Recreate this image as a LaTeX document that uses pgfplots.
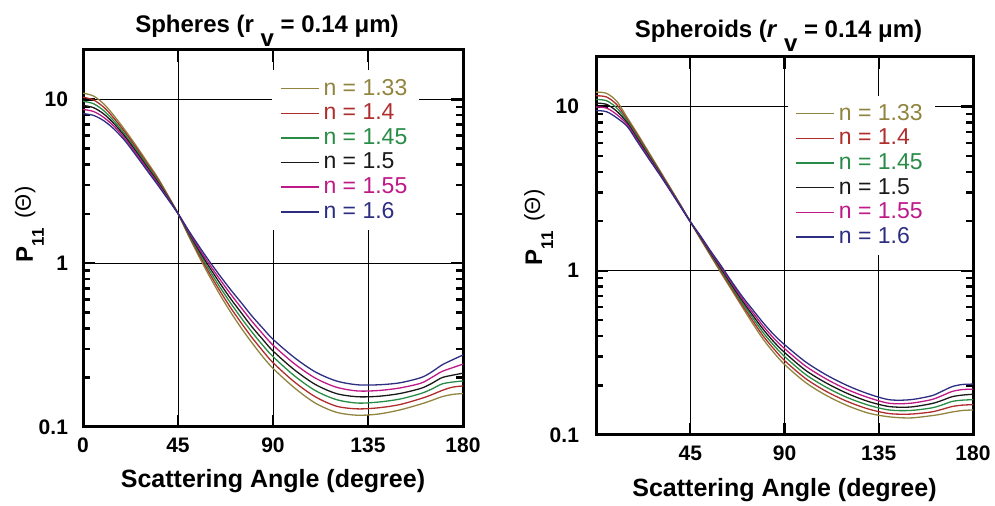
\documentclass[border=0pt]{standalone}
\usepackage{fontspec}
\setmainfont{Liberation Sans}
\usepackage{pgfplots}
\pgfplotsset{compat=1.18}
\usepackage{pgfplotstable}
\definecolor{c133}{RGB}{145,132,62}
\definecolor{c14}{RGB}{175,45,45}
\definecolor{c145}{RGB}{40,140,70}
\definecolor{c15}{RGB}{25,25,25}
\definecolor{c155}{RGB}{190,25,135}
\definecolor{c16}{RGB}{45,45,130}

\pgfplotstableread{
a n133 n14 n145 n15 n155 n16
0 10.91 10.30 9.73 9.18 8.67 8.18
5 10.47 9.91 9.40 8.89 8.43 7.98
10 9.33 8.91 8.49 8.11 7.73 7.38
15 7.85 7.57 7.29 7.03 6.78 6.53
20 6.46 6.27 6.08 5.90 5.73 5.56
25 5.25 5.11 4.97 4.83 4.70 4.57
30 4.22 4.11 4.02 3.92 3.83 3.73
35 3.39 3.32 3.25 3.18 3.12 3.05
40 2.63 2.60 2.57 2.54 2.51 2.48
45 2.01 2.01 2.01 2.01 2.01 2.01
50 1.47 1.49 1.51 1.54 1.56 1.585
55 1.094 1.127 1.159 1.194 1.227 1.265
60 0.828 0.863 0.900 0.940 0.979 1.021
65 0.638 0.673 0.710 0.750 0.791 0.834
70 0.501 0.533 0.569 0.605 0.646 0.687
75 0.401 0.431 0.462 0.497 0.533 0.573
80 0.327 0.352 0.380 0.409 0.442 0.476
85 0.270 0.293 0.317 0.344 0.372 0.403
90 0.228 0.247 0.269 0.291 0.316 0.343
100 0.174 0.189 0.206 0.224 0.244 0.266
110 0.140 0.153 0.167 0.182 0.199 0.217
120 0.123 0.134 0.147 0.160 0.175 0.191
130 0.118 0.129 0.140 0.153 0.166 0.181
140 0.120 0.131 0.142 0.154 0.167 0.181
150 0.127 0.137 0.148 0.160 0.173 0.186
160 0.138 0.149 0.160 0.172 0.185 0.200
165 0.145 0.157 0.170 0.184 0.200 0.216
170 0.153 0.167 0.183 0.200 0.218 0.239
175 0.158 0.175 0.188 0.207 0.230 0.257
180 0.160 0.178 0.191 0.213 0.242 0.275
}\leftdata

\pgfplotstableread{
a n133 n14 n145 n15 n155 n16
0 12.22 11.61 11.02 10.47 9.93 9.44
5 12.02 11.42 10.84 10.30 9.77 9.29
10 10.72 10.23 9.77 9.33 8.91 8.51
15 8.51 8.30 8.11 7.91 7.73 7.53
20 6.76 6.61 6.46 6.31 6.17 6.03
25 5.31 5.21 5.12 5.02 4.93 4.84
30 4.17 4.11 4.06 4.01 3.96 3.91
35 3.27 3.24 3.21 3.18 3.16 3.13
40 2.56 2.55 2.54 2.52 2.51 2.49
45 1.99 1.99 1.99 1.99 1.99 1.99
50 1.549 1.563 1.578 1.592 1.607 1.622
55 1.216 1.233 1.250 1.268 1.285 1.303
60 0.955 0.975 0.995 1.016 1.038 1.059
65 0.755 0.773 0.792 0.811 0.831 0.851
70 0.596 0.614 0.632 0.652 0.671 0.692
75 0.473 0.492 0.512 0.532 0.553 0.575
80 0.380 0.398 0.417 0.437 0.457 0.479
85 0.316 0.333 0.350 0.368 0.387 0.407
90 0.269 0.284 0.301 0.318 0.336 0.355
100 0.209 0.221 0.234 0.248 0.263 0.279
110 0.174 0.184 0.195 0.207 0.219 0.232
120 0.151 0.160 0.169 0.179 0.189 0.200
130 0.136 0.144 0.152 0.160 0.169 0.178
140 0.129 0.135 0.142 0.149 0.156 0.164
150 0.127 0.134 0.141 0.148 0.156 0.164
160 0.131 0.138 0.146 0.155 0.164 0.173
165 0.134 0.143 0.152 0.162 0.173 0.184
170 0.138 0.149 0.160 0.171 0.184 0.197
175 0.141 0.152 0.163 0.175 0.189 0.203
180 0.142 0.153 0.164 0.177 0.190 0.204
}\rightdata

\tikzset{crv/.style={smooth, line width=0.65pt}}
\pgfplotsset{legend image code/.code={\draw[#1, line width=0.65pt] (0pt,0pt) -- (19pt,0pt);}}
\newcommand{\ylab}{{\fontsize{12}{12}\selectfont\bfseries P\raisebox{-5.5pt}{\fontsize{8.5}{9}\selectfont 11}}\hspace{5pt}\raisebox{1pt}{\fontsize{11}{11}\selectfont(Θ)}}

\begin{document}
\begin{tikzpicture}
\useasboundingbox (0,0) rectangle (497.5pt,253pt);
\begin{axis}[at={(41.5pt,39.5pt)}, anchor=south west, width=190pt, height=188.5pt,
  scale only axis, ymode=log,
  xmin=0, xmax=180, ymin=0.1, ymax=20,
  xtick={0,45,90,135,180}, xticklabels={0,45,90,135,180},
  ytick={0.1,1,10}, yticklabels={0.1,1,10},
  minor ytick={0.2,0.3,0.4,0.5,0.6,0.7,0.8,0.9,2,3,4,5,6,7,8,9},
  tick align=inside,
  grid=major, major grid style={black, line width=0.5pt},
  axis line style={black, line width=1.5pt},
  major tick length=6pt, minor tick length=3.5pt,
  every tick/.style={black, line width=1.2pt},
  tick label style={font=\fontsize{10.5}{12}\selectfont\bfseries},
  xticklabel style={yshift=-2pt},
  yticklabel style={xshift=-4pt},
  title={Spheres (r \raisebox{-7pt}{v} = 0.14 μm)},
  title style={at={(0.5,1)}, anchor=base, yshift=2.5pt, xshift=-3pt, font=\fontsize{12}{13}\selectfont\bfseries},
  xlabel={Scattering Angle (degree)},
  every axis x label/.style={at={(rel axis cs:0.5,0)}, anchor=base, yshift=-30.5pt, font=\fontsize{12.5}{14}\selectfont\bfseries},
  ylabel={\ylab},
  every axis y label/.style={at={(rel axis cs:-0.1316,0.537)}, rotate=90, anchor=base},
  legend style={at={(rel axis cs:0.497,0.947)}, anchor=north west, fill=white, draw=none, inner xsep=4pt, inner ysep=2.3pt,
      row sep=-1.1pt, font=\fontsize{11.5}{12}\selectfont},
  legend cell align=left,
]
\addplot[crv, c133] table[x=a,y=n133]{\leftdata};
\addplot[crv, c14] table[x=a,y=n14]{\leftdata};
\addplot[crv, c145] table[x=a,y=n145]{\leftdata};
\addplot[crv, c15] table[x=a,y=n15]{\leftdata};
\addplot[crv, c155] table[x=a,y=n155]{\leftdata};
\addplot[crv, c16] table[x=a,y=n16]{\leftdata};
\legend{\textcolor{c133}{n = 1.33},\textcolor{c14}{n = 1.4},\textcolor{c145}{n = 1.45},\textcolor{c15}{n = 1.5},\textcolor{c155}{n = 1.55},\textcolor{c16}{n = 1.6}}
\end{axis}
\begin{axis}[at={(298pt,35.5pt)}, anchor=south west, width=188.5pt, height=189pt,
  scale only axis, ymode=log,
  xmin=0, xmax=180, ymin=0.1, ymax=20,
  xtick={0,45,90,135,180}, xticklabels={,45,90,135,180},
  ytick={0.1,1,10}, yticklabels={0.1,1,10},
  minor ytick={0.2,0.3,0.4,0.5,0.6,0.7,0.8,0.9,2,3,4,5,6,7,8,9},
  tick align=inside,
  grid=major, major grid style={black, line width=0.5pt},
  axis line style={black, line width=1.5pt},
  major tick length=6pt, minor tick length=3.5pt,
  every tick/.style={black, line width=1.2pt},
  tick label style={font=\fontsize{10.5}{12}\selectfont\bfseries},
  xticklabel style={yshift=-2pt},
  yticklabel style={xshift=-5pt},
  title={Spheroids (\textit{r} \raisebox{-7pt}{v} = 0.14 μm)},
  title style={at={(0.5,1)}, anchor=base, yshift=3.5pt, xshift=-3pt, font=\fontsize{12}{13}\selectfont\bfseries},
  xlabel={Scattering Angle (degree)},
  every axis x label/.style={at={(rel axis cs:0.5,0)}, anchor=base, yshift=-31pt, font=\fontsize{12.5}{14}\selectfont\bfseries},
  ylabel={\ylab},
  every axis y label/.style={at={(rel axis cs:-0.1432,0.549)}, rotate=90, anchor=base},
  legend style={at={(rel axis cs:0.507,0.899)}, anchor=north west, fill=white, draw=none, inner xsep=4pt, inner ysep=2.3pt,
      row sep=-1.1pt, font=\fontsize{11.5}{12}\selectfont},
  legend cell align=left,
]
\addplot[crv, c133] table[x=a,y=n133]{\rightdata};
\addplot[crv, c14] table[x=a,y=n14]{\rightdata};
\addplot[crv, c145] table[x=a,y=n145]{\rightdata};
\addplot[crv, c15] table[x=a,y=n15]{\rightdata};
\addplot[crv, c155] table[x=a,y=n155]{\rightdata};
\addplot[crv, c16] table[x=a,y=n16]{\rightdata};
\legend{\textcolor{c133}{n = 1.33},\textcolor{c14}{n = 1.4},\textcolor{c145}{n = 1.45},\textcolor{c15}{n = 1.5},\textcolor{c155}{n = 1.55},\textcolor{c16}{n = 1.6}}
\end{axis}
\end{tikzpicture}
\end{document}
